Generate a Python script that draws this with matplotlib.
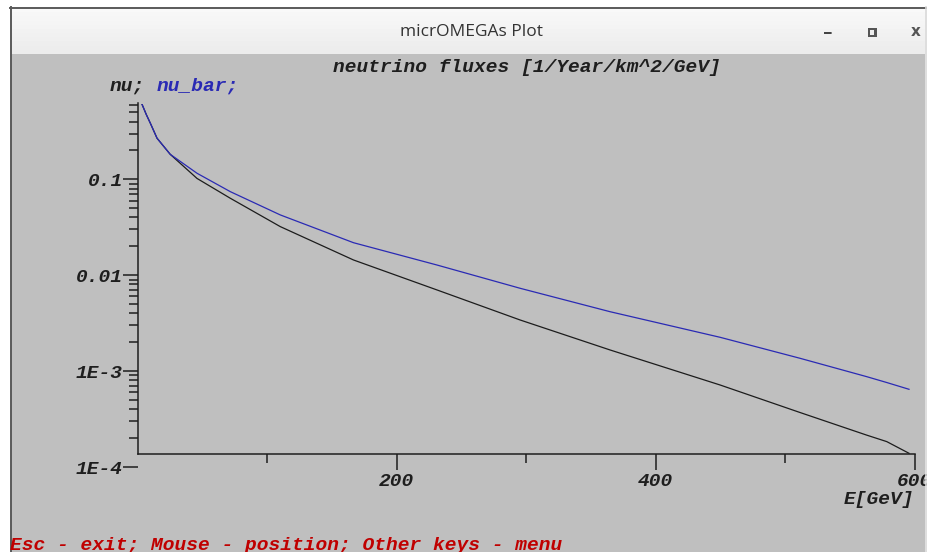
import matplotlib
matplotlib.use('Agg')
import matplotlib.pyplot as plt
from matplotlib.patches import Rectangle
from matplotlib.lines import Line2D
from matplotlib.ticker import FixedLocator, NullFormatter
import numpy as np

# Данные
energy = [3.1, 6.5, 9.5, 14.7, 24.9, 45.6, 71.3, 109.9, 166.5, 230.9, 295.2,
          364.7, 449.7, 511.4, 562.9, 578.4, 595.6]
flux_nu = [0.605, 0.47, 0.385, 0.268, 0.182, 0.102, 0.0634, 0.0321, 0.0144, 0.00702,
           0.00341, 0.00166, 7.16e-4, 3.70e-4, 2.15e-4, 1.84e-4, 1.39e-4]
flux_nubar = [0.605, 0.47, 0.385, 0.268, 0.182, 0.1155, 0.0743, 0.0425, 0.0218, 0.01277,
              0.0073, 0.00416, 0.00225, 0.00136, 8.75e-4, 7.6e-4, 6.46e-4]

y_ticks = [1e-4, 1e-3, 1e-2, 1e-1]
y_labels = ['1E-4', '1E-3', '0.01', '0.1']
x_ticks = [200, 400, 600]
x_labels = ['200', '400', '600']
x_minor = [100, 300, 500]

W, H = 927, 552
fig = plt.figure(figsize=(W / 100, H / 100), dpi=100)
fig.patch.set_facecolor('white')


def fx(x):
    return x / W


def fy(y):
    return 1 - y / H


def rect(x0, y0, x1, y1, color, z=0):
    fig.add_artist(Rectangle((fx(x0), fy(y1)), fx(x1) - fx(x0), fy(y0) - fy(y1),
                             transform=fig.transFigure, facecolor=color,
                             edgecolor='none', zorder=z))


def hline(x0, x1, y, color, lw=1.5, z=1):
    fig.add_artist(Line2D([fx(x0), fx(x1)], [fy(y), fy(y)], transform=fig.transFigure,
                          color=color, lw=lw, zorder=z))


def vline(x, y0, y1, color, lw=1.5, z=1):
    fig.add_artist(Line2D([fx(x), fx(x)], [fy(y0), fy(y1)], transform=fig.transFigure,
                          color=color, lw=lw, zorder=z))


# окно: заголовок + серая область
bands = np.linspace(8, 54, 12)
shades = np.linspace(0.975, 0.925, 11)
for i in range(11):
    rect(11, bands[i], 925, bands[i + 1] + 0.5, str(shades[i]))
rect(11, 54, 925, 552, '#bfbfbf')
hline(10, 926, 7.5, '#5a5a5a', lw=1.4, z=2)
vline(10.5, 7, 552, '#5a5a5a', lw=1.4, z=2)
vline(925.5, 7, 552, '#d8d8d8', lw=1.2, z=20)

fig.text(fx(472), fy(32), 'micrOMEGAs Plot', ha='center', va='center',
         fontsize=12.5, family='Open Sans', color='#333333')
fig.text(fx(828), fy(34), '_', ha='center', va='bottom', fontsize=11,
         family='DejaVu Sans', weight='bold', color='#444444')
rect(867.5, 28, 876.5, 37, '#555555', z=2)
rect(870, 30.5, 874, 34.5, '#eeeeee', z=3)
fig.text(fx(916), fy(32), 'x', ha='center', va='center', fontsize=11,
         family='DejaVu Sans', weight='bold', color='#555555')

mono = dict(family='Liberation Mono', style='italic', weight='bold', fontsize=14)

ax = fig.add_axes([fx(138), fy(467), fx(914.7) - fx(138), fy(103.5) - fy(467)])
ax.set_facecolor('none')
ax.set_yscale('log')
ax.set_xlim(0, 600)
ax.set_ylim(1e-4, 10 ** -0.21)

ax.plot(energy, flux_nu, color='#1c1c1c', lw=0.9)
ax.plot(energy, flux_nubar, color='#2a2ab4', lw=0.9)

for s in ['top', 'right']:
    ax.spines[s].set_visible(False)
ax.spines['bottom'].set_position(('data', 1.37e-4))
ax.spines['left'].set_bounds(1.37e-4, 10 ** -0.21)
for s in ['bottom', 'left']:
    ax.spines[s].set_linewidth(1.1)
    ax.spines[s].set_color('#1e1e1e')

ax.yaxis.set_major_locator(FixedLocator(y_ticks))
ax.set_yticklabels(y_labels, **mono)
ax.yaxis.set_minor_locator(FixedLocator(
    [m * d for d in [1e-4, 1e-3, 1e-2, 1e-1] for m in range(2, 10) if m * d < 0.62]))
ax.yaxis.set_minor_formatter(NullFormatter())
ax.xaxis.set_major_locator(FixedLocator(x_ticks))
ax.set_xticklabels(x_labels, **mono)
ax.xaxis.set_minor_locator(FixedLocator(x_minor))

ax.tick_params(axis='y', which='major', direction='out', length=10.8, width=1.1,
               pad=0, colors='#1e1e1e')
ax.tick_params(axis='y', which='minor', direction='out', length=6.8, width=1.1,
               colors='#1e1e1e')
ax.tick_params(axis='x', which='major', direction='out', length=11.5, width=1.1,
               pad=2, colors='#1e1e1e')
ax.tick_params(axis='x', which='minor', direction='out', length=6.5, width=1.1,
               colors='#1e1e1e')

# подписи
fig.text(fx(527), fy(67), 'neutrino fluxes [1/Year/km^2/GeV]', ha='center',
         va='center', color='#1e1e1e', **mono)
fig.text(fx(110), fy(86), 'nu;', ha='left', va='center', color='#1e1e1e', **mono)
fig.text(fx(157), fy(86), 'nu_bar;', ha='left', va='center', color='#2a2ab4', **mono)
fig.text(fx(914), fy(500), 'E[GeV]', ha='right', va='center', color='#1e1e1e', **mono)
fig.text(fx(10), fy(545), 'Esc - exit; Mouse - position; Other keys - menu',
         ha='left', va='center', color='#c00000', **mono)

fig.savefig('out.png', dpi=100)
